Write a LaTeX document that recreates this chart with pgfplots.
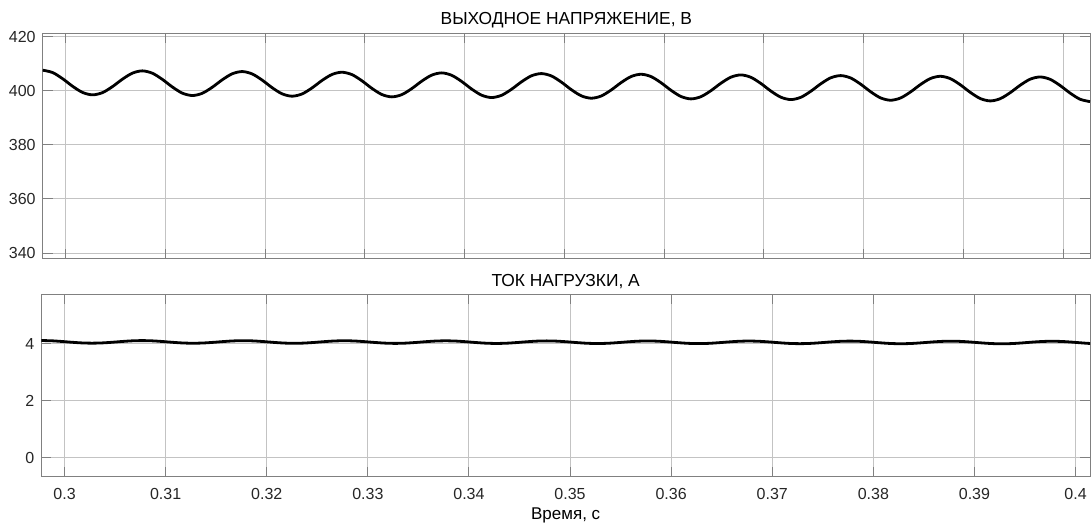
\documentclass[border=0pt]{standalone}
\usepackage{fontspec}
\setmainfont{Liberation Sans}
\usepackage{pgfplots}
\pgfplotsset{compat=1.18}
\usepackage{pgfplotstable}
\definecolor{axgray}{RGB}{128,128,128}
\definecolor{gridgray}{RGB}{195,195,195}
\definecolor{labgray}{RGB}{38,38,38}

% output voltage, sampled every 1 ms
\pgfplotstableread{
t v
0.2977 407.65
0.2987 406.77
0.2997 404.49
0.3007 401.69
0.3017 399.41
0.3027 398.53
0.3037 399.36
0.3047 401.59
0.3057 404.34
0.3067 406.57
0.3077 407.40
0.3087 406.52
0.3097 404.24
0.3107 401.44
0.3117 399.16
0.3127 398.28
0.3137 399.11
0.3147 401.34
0.3157 404.09
0.3167 406.32
0.3177 407.15
0.3187 406.27
0.3197 403.99
0.3207 401.19
0.3217 398.91
0.3227 398.03
0.3237 398.86
0.3247 401.09
0.3257 403.84
0.3267 406.07
0.3277 406.90
0.3287 406.02
0.3297 403.74
0.3307 400.94
0.3317 398.66
0.3327 397.78
0.3337 398.61
0.3347 400.84
0.3357 403.59
0.3367 405.82
0.3377 406.65
0.3387 405.77
0.3397 403.49
0.3407 400.69
0.3417 398.41
0.3427 397.53
0.3437 398.36
0.3447 400.59
0.3457 403.34
0.3467 405.57
0.3477 406.40
0.3487 405.52
0.3497 403.24
0.3507 400.44
0.3517 398.16
0.3527 397.28
0.3537 398.11
0.3547 400.34
0.3557 403.09
0.3567 405.32
0.3577 406.15
0.3587 405.27
0.3597 402.99
0.3607 400.19
0.3617 397.91
0.3627 397.03
0.3637 397.86
0.3647 400.09
0.3657 402.84
0.3667 405.07
0.3677 405.90
0.3687 405.02
0.3697 402.74
0.3707 399.94
0.3717 397.66
0.3727 396.78
0.3737 397.61
0.3747 399.84
0.3757 402.59
0.3767 404.82
0.3777 405.65
0.3787 404.77
0.3797 402.49
0.3807 399.69
0.3817 397.41
0.3827 396.53
0.3837 397.36
0.3847 399.59
0.3857 402.34
0.3867 404.57
0.3877 405.40
0.3887 404.52
0.3897 402.24
0.3907 399.44
0.3917 397.16
0.3927 396.28
0.3937 397.11
0.3947 399.34
0.3957 402.09
0.3967 404.32
0.3977 405.15
0.3987 404.27
0.3997 401.99
0.4007 399.19
0.4017 396.91
0.4027 396.03
}\vdata

\pgfplotsset{
  mstyle/.style={
    scale only axis, anchor=south west,
    axis line style={draw=axgray, line width=0.5pt},
    grid=major, grid style={gridgray, line width=0.5pt},
    tick style={axgray, line width=0.5pt},
    major tick length=5pt,
    tick label style={font=\fontsize{8}{9.6}\selectfont, text=labgray},
    /pgf/number format/assume math mode=true,
    title style={font=\fontsize{8.7}{10}\selectfont, yshift=-7pt},
    xtick={0.3,0.31,0.32,0.33,0.34,0.35,0.36,0.37,0.38,0.39,0.4},
    xmin=0.2977,
  },
}

\begin{document}
\begin{tikzpicture}
\useasboundingbox (0,0) rectangle (545.5pt,262pt);

\begin{axis}[mstyle,
  at={(21.35pt,132.5pt)}, width=523.65pt, height=112.85pt,
  xmax=0.4027, ymin=337.8, ymax=421.3,
  ytick={340,360,380,400,420},
  xticklabels={},
  title={ВЫХОДНОЕ НАПРЯЖЕНИЕ, В},
]
\addplot[black, line width=1.4pt, smooth] table[x=t, y=v]{\vdata};
\end{axis}

\begin{axis}[mstyle,
  at={(20.65pt,23.5pt)}, width=524.35pt, height=91.5pt,
  xmax=0.40143, ymin=-0.67, ymax=5.75,
  ytick={0,2,4},
  xticklabel style={yshift=-2pt},
  xlabel={Время, с},
  xlabel style={font=\fontsize{8.5}{10}\selectfont, yshift=2.5pt},
  title={ТОК НАГРУЗКИ, А},
]
\addplot[black, line width=1.4pt, smooth] table[x=t, y expr=\thisrow{v}/99]{\vdata};
\end{axis}
\end{tikzpicture}
\end{document}
